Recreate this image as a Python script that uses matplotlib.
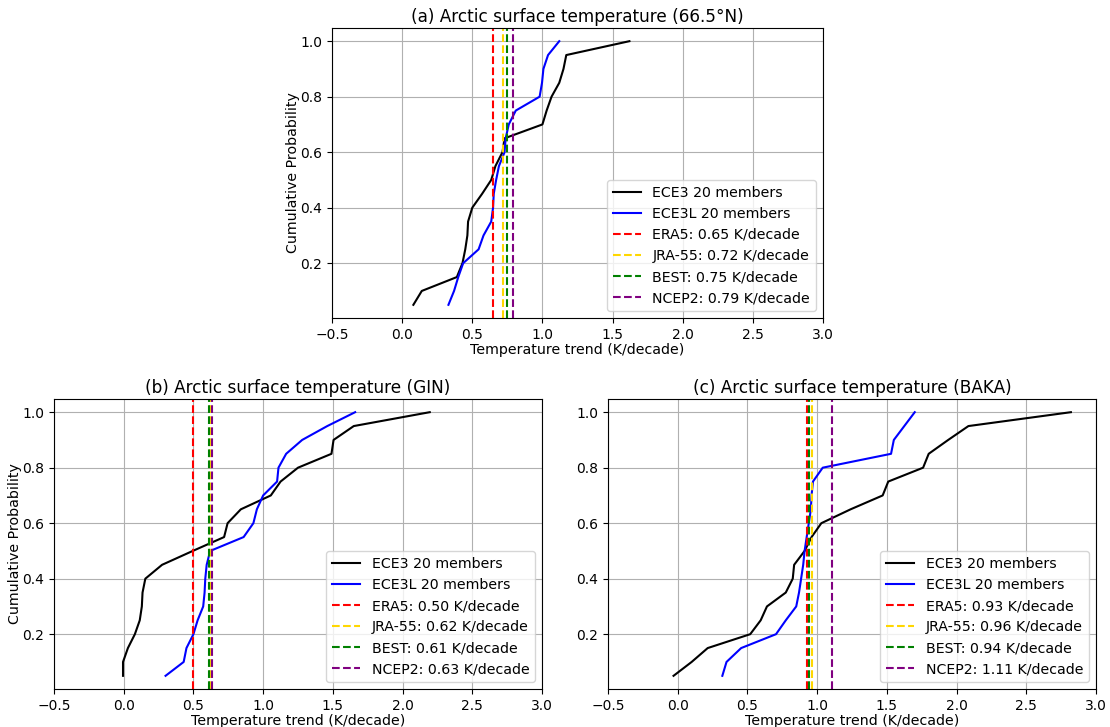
#!/usr/bin/env python3
"""Cumulative distributions of Arctic surface temperature trends (ECE3 vs ECE3L)."""

import numpy as np
import matplotlib

matplotlib.use("Agg")
import matplotlib.pyplot as plt  # noqa: E402

# sorted member trends (K/decade), 20 members each
ece3_a = [0.08, 0.14, 0.39, 0.43, 0.45, 0.465, 0.47, 0.50, 0.57, 0.635,
          0.665, 0.715, 0.73, 1.00, 1.03, 1.065, 1.12, 1.15, 1.17, 1.62]
ece3l_a = [0.33, 0.37, 0.40, 0.435, 0.545, 0.58, 0.635, 0.648, 0.653, 0.67,
           0.69, 0.73, 0.738, 0.76, 0.81, 0.98, 0.997, 1.007, 1.04, 1.12]
ece3_b = [-0.005, -0.005, 0.03, 0.08, 0.115, 0.13, 0.135, 0.155, 0.275, 0.495,
          0.72, 0.745, 0.84, 1.055, 1.125, 1.25, 1.49, 1.505, 1.65, 2.195]
ece3l_b = [0.30, 0.43, 0.45, 0.50, 0.53, 0.57, 0.58, 0.585, 0.595, 0.62,
           0.86, 0.93, 0.955, 1.00, 1.10, 1.11, 1.165, 1.28, 1.46, 1.66]
ece3_c = [-0.03, 0.10, 0.215, 0.52, 0.595, 0.64, 0.775, 0.825, 0.835, 0.91,
          0.96, 1.03, 1.24, 1.47, 1.51, 1.76, 1.80, 1.94, 2.085, 2.82]
ece3l_c = [0.32, 0.35, 0.455, 0.705, 0.775, 0.85, 0.87, 0.885, 0.90, 0.91,
           0.925, 0.94, 0.955, 0.96, 0.97, 1.04, 1.53, 1.55, 1.625, 1.70]

# observed / reanalysis trends per region
obs_names = ["ERA5", "JRA-55", "BEST", "NCEP2"]
obs_colors = ["red", "gold", "green", "purple"]
obs_a = [0.65, 0.72, 0.75, 0.79]
obs_b = [0.50, 0.62, 0.61, 0.63]
obs_c = [0.93, 0.96, 0.94, 1.11]

titles = ["(a) Arctic surface temperature (66.5°N)",
          "(b) Arctic surface temperature (GIN)",
          "(c) Arctic surface temperature (BAKA)"]


def panel(ax, ece3, ece3l, obs, title, ylabel=True):
    prob = np.arange(1, len(ece3) + 1) / len(ece3)
    ax.plot(ece3, prob, color="black", lw=1.5, label="ECE3 20 members")
    ax.plot(ece3l, prob, color="blue", lw=1.5, label="ECE3L 20 members")
    for name, col, val in zip(obs_names, obs_colors, obs):
        ax.axvline(val, color=col, ls="--", lw=1.5, label=f"{name}: {val:.2f} K/decade")
    ax.set_xlim(-0.5, 3.0)
    ax.set_xticks(np.arange(-0.5, 3.01, 0.5))
    ax.grid(True)
    ax.set_title(title, fontsize=12.2, pad=4)
    ax.set_xlabel("Temperature trend (K/decade)", fontsize=10.2, labelpad=1)
    if ylabel:
        ax.set_ylabel("Cumulative Probability", fontsize=10.2, labelpad=0.5)
    ax.tick_params(labelsize=10)
    ax.legend(loc="lower right", fontsize=10.2)


fig = plt.figure(figsize=(11.1, 7.27), dpi=100)
W, H = 1110, 727
ax_a = fig.add_axes([332 / W, 1 - 318 / H, 491 / W, 290 / H])
ax_b = fig.add_axes([54 / W, 1 - 689 / H, 488 / W, 290 / H])
ax_c = fig.add_axes([608 / W, 1 - 689 / H, 488 / W, 290 / H])

panel(ax_a, ece3_a, ece3l_a, obs_a, titles[0])
panel(ax_b, ece3_b, ece3l_b, obs_b, titles[1])
panel(ax_c, ece3_c, ece3l_c, obs_c, titles[2], ylabel=False)

fig.savefig("out.png", dpi=100)
